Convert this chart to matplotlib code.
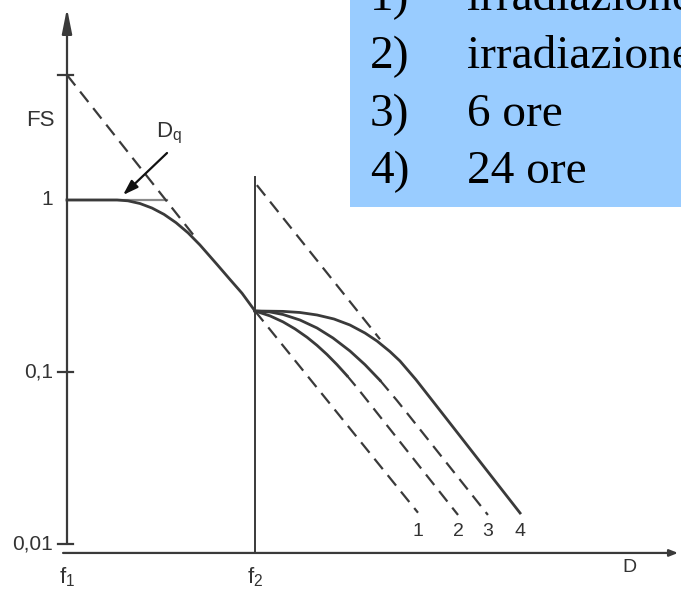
import matplotlib
matplotlib.use('Agg')
import matplotlib.pyplot as plt
from matplotlib.patches import Rectangle

plt.rcParams.update({
    'font.family': ['Liberation Sans', 'DejaVu Sans'],
    'text.color': '#333333',
})

# first single dose (from f1), surviving fraction on log scale
dose_single = [0, 2.66, 3.24, 3.88, 4.52, 5.16, 5.80, 6.44, 7.07, 7.98, 8.67, 9.31, 10.0]
fs_single = [1.0, 1.0, 0.989, 0.954, 0.898, 0.825, 0.738, 0.644, 0.548, 0.422, 0.345, 0.287, 0.2263]

# extrapolation of the first curve (n) and the Dq shoulder line
dose_extrap1 = [0, 6.81]
fs_extrap1 = [5.33, 0.609]
dose_dq = [0, 5.3]
fs_dq = [1.0, 1.0]

# second dose given at f2
f2_dose = 10.0
f2_top = 1.36

# 1) immediate: straight dashed line
dose_c1 = [10.0, 18.67]
fs_c1 = [0.2263, 0.0152]
# 2) curve, solid part then dashed tail
dose_c2 = [10.0, 10.80, 11.49, 12.13, 12.77, 13.30, 13.83, 14.36, 14.89]
fs_c2 = [0.2263, 0.2119, 0.1956, 0.1780, 0.1591, 0.1428, 0.1264, 0.1104, 0.0953]
dose_c2_tail = [14.89, 15.46, 16.49, 20.80]
fs_c2_tail = [0.0953, 0.0803, 0.0579, 0.01475]
# 3) 6 ore
dose_c3 = [10.0, 10.80, 11.49, 12.39, 13.30, 14.15, 15.05, 15.85, 16.65]
fs_c3 = [0.2263, 0.2233, 0.2159, 0.2006, 0.1802, 0.1576, 0.1325, 0.1103, 0.0894]
dose_c3_tail = [16.65, 17.55, 18.25, 22.39]
fs_c3_tail = [0.0894, 0.0683, 0.0548, 0.01475]
# 4) 24 ore: full solid curve
dose_c4 = [10.0, 11.49, 12.39, 13.30, 14.20, 15.05, 15.85, 16.49, 17.18, 17.71, 18.56, 20.21, 24.10]
fs_c4 = [0.2263, 0.2251, 0.2218, 0.2145, 0.2033, 0.1876, 0.1685, 0.1514, 0.1314, 0.1159,
         0.0903, 0.0531, 0.01514]
# extrapolation of curve 4 back to f2
dose_extrap4 = [10.1, 16.65]
fs_extrap4 = [1.22, 0.155]

tick_vals = [5.33, 0.1, 0.01]
tick_labels = {1.0: '1', 0.1: '0,1', 0.01: '0,01'}
curve_labels = ['1', '2', '3', '4']
legend_lines = [('1)', 'irradiazione'), ('2)', 'irradiazione'),
                ('3)', '6 ore'), ('4)', '24 ore')]

ink = '#3a3a3a'
dash = (0, (6, 3.5))

fig = plt.figure(figsize=(6.81, 5.93), dpi=100)
ax = fig.add_axes([0, 0, 1, 1])
ax.set_yscale('log')
ax.set_xlim(-3.564, 32.66)
ax.set_ylim(0.005189, 14.546)
ax.axis('off')

x_axis_fs = 0.00887

# axes with arrows
ax.annotate('', xy=(0, 13.0), xytext=(0, 0.01),
            arrowprops=dict(arrowstyle='-|>,head_length=1.5,head_width=0.3',
                            color=ink, lw=1.6, shrinkA=0, shrinkB=0))
ax.annotate('', xy=(32.5, x_axis_fs), xytext=(-0.21, x_axis_fs),
            arrowprops=dict(arrowstyle='-|>,head_length=0.5,head_width=0.2',
                            color=ink, lw=1.6, shrinkA=0, shrinkB=0))
for v in tick_vals:
    ax.plot([-0.48, 0.32], [v, v], color=ink, lw=1.6)

# first survival curve
ax.plot(dose_dq, fs_dq, color='#8a8a8a', lw=1.6)
ax.plot(dose_extrap1, fs_extrap1, color=ink, lw=1.6, ls=dash)
ax.plot(dose_single, fs_single, color=ink, lw=2.0, solid_joinstyle='round')

# f2 vertical line
ax.plot([f2_dose, f2_dose], [x_axis_fs, f2_top], color=ink, lw=1.4)

# second dose curves
ax.plot(dose_c1, fs_c1, color=ink, lw=1.6, ls=dash)
ax.plot(dose_c2, fs_c2, color=ink, lw=2.0, solid_joinstyle='round')
ax.plot(dose_c2_tail, fs_c2_tail, color=ink, lw=1.6, ls=dash)
ax.plot(dose_c3, fs_c3, color=ink, lw=2.0, solid_joinstyle='round')
ax.plot(dose_c3_tail, fs_c3_tail, color=ink, lw=1.6, ls=dash)
ax.plot(dose_c4, fs_c4, color=ink, lw=2.0, solid_joinstyle='round')
ax.plot(dose_extrap4, fs_extrap4, color=ink, lw=1.6, ls=dash)

for lab, d in zip(curve_labels, [dose_c1[-1], dose_c2_tail[-1],
                                 dose_c3_tail[-1], dose_c4[-1]]):
    ax.text(d, 0.0118, lab, fontsize=14, ha='center', va='center')

# Dq arrow and label
ax.annotate('', xy=(2.98, 1.069), xytext=(5.32, 1.876),
            arrowprops=dict(arrowstyle='-|>,head_length=0.9,head_width=0.3',
                            color='#111111', lw=1.6, shrinkA=0, shrinkB=0))
ax.text(5.45, 2.45, 'D$_\\mathregular{q}$', fontsize=16, ha='center', va='center')

# axis labels
ax.text(-1.44, 2.9, 'FS', fontsize=16, ha='center', va='center')
for v, lab in tick_labels.items():
    ax.text(-0.75, v, lab, fontsize=15, ha='right', va='center')
ax.text(0, 0.0064, 'f$_\\mathregular{1}$', fontsize=16, ha='center', va='center')
ax.text(f2_dose, 0.0064, 'f$_\\mathregular{2}$', fontsize=16, ha='center', va='center')
ax.text(29.9, 0.0073, 'D', fontsize=14, ha='center', va='center')

# blue legend box
fig.patches.append(Rectangle((350 / 681, 1 - 207 / 593), 331 / 681, 207 / 593,
                             transform=fig.transFigure, facecolor='#99ccff',
                             edgecolor='none', zorder=0))
baselines = [10.5, 68, 126, 183]
for (num, txt), yb in zip(legend_lines, baselines):
    fig.text(370 / 681, 1 - yb / 593, num, family='Liberation Serif',
             fontsize=34, color='black', va='baseline', ha='left')
    fig.text(467 / 681, 1 - yb / 593, txt, family='Liberation Serif',
             fontsize=34, color='black', va='baseline', ha='left')

fig.savefig('out.png', dpi=100)
plt.close()
